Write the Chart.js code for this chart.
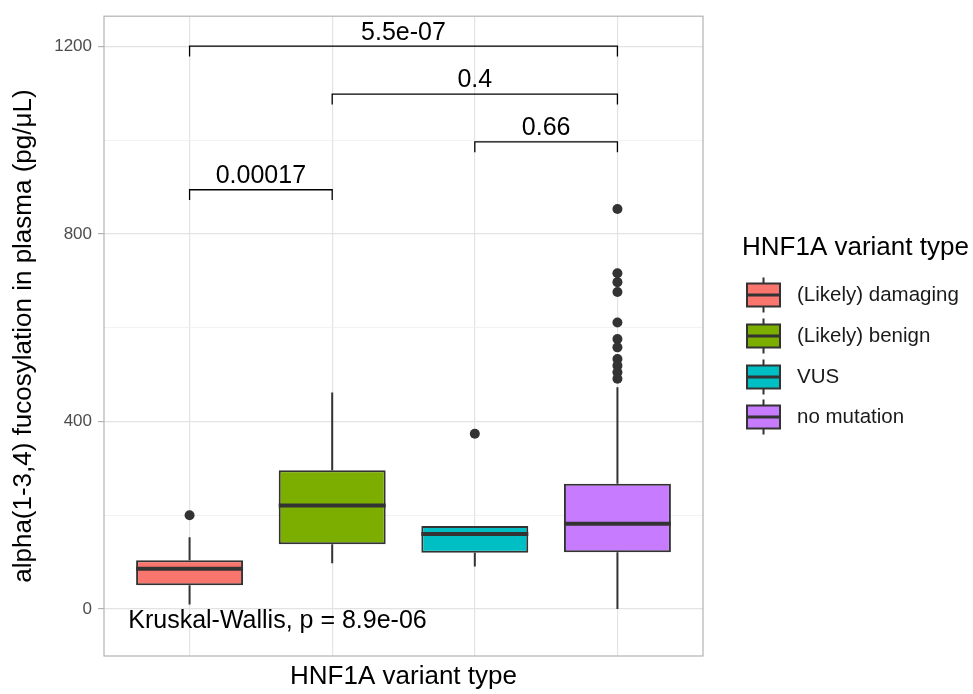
<!DOCTYPE html>
<html>
<head>
<meta charset="utf-8">
<title>HNF1A variant type boxplot</title>
<script src="https://cdn.jsdelivr.net/npm/chart.js@4.4.1/dist/chart.umd.min.js"></script>
<style>
  html, body { margin: 0; padding: 0; background: #ffffff; }
  #wrap { width: 973px; height: 694px; }
</style>
</head>
<body>
<div id="wrap"><canvas id="chart" width="973" height="694"></canvas></div>
<script>
// --- data ---
const groups = ['(Likely) damaging', '(Likely) benign', 'VUS', 'no mutation'];
const boxColors = ['#F8766D', '#7CAE00', '#00BFC4', '#C77CFF'];

const whiskerLow  = [10, 98, 91, 0];
const quartile1   = [51, 138, 120, 121];
const medians     = [86, 221, 160, 182];
const quartile3   = [104, 296, 177, 267];
const whiskerHigh = [153, 462, 177, 473];

const outliersDamaging   = [200];
const outliersBenign     = [];
const outliersVUS        = [374];
const outliersNoMutation = [853, 716, 697, 676, 611, 576, 558, 533, 519, 505, 491];
const outliers = [outliersDamaging, outliersBenign, outliersVUS, outliersNoMutation];

// pairwise comparisons: [from group, to group], bracket height, p label
const comparePairs   = [[1, 4], [2, 4], [3, 4], [1, 2]];
const compareHeights = [1200, 1098, 996, 894];
const compareLabels  = ['5.5e-07', '0.4', '0.66', '0.00017'];
const bracketTip = 22;

const kruskalLabel = 'Kruskal-Wallis, p = 8.9e-06';
const kruskalPos = { x: 0.57, y: -25 };

const yGridValues = [0, 200, 400, 600, 800, 1000, 1200];
const yTickLabels = [0, 400, 800, 1200];

const BOX_WIDTH = 0.75;
const INK = '#333333';
const FONT = "'Liberation Sans', Arial, sans-serif";

Chart.defaults.font.family = FONT;

// --- datasets (first one is drawn on top) ---
const datasets = [];

datasets.push({
    type: 'scatter',
    data: outliers.flatMap((vals, i) => vals.map(v => ({ x: i + 1, y: v }))),
    pointRadius: 5,
    pointBackgroundColor: INK,
    pointBorderWidth: 0
});

groups.forEach((g, i) => {
    datasets.push({
        type: 'line',
        data: [{ x: i + 1 - BOX_WIDTH / 2, y: medians[i] }, { x: i + 1 + BOX_WIDTH / 2, y: medians[i] }],
        borderColor: INK,
        borderWidth: 4,
        borderCapStyle: 'butt',
        pointRadius: 0
    });
    // whiskers, with a gap across the box
    datasets.push({
        type: 'line',
        data: [
            { x: i + 1, y: whiskerLow[i] }, { x: i + 1, y: quartile1[i] },
            { x: i + 1, y: null },
            { x: i + 1, y: quartile3[i] }, { x: i + 1, y: whiskerHigh[i] }
        ],
        borderColor: INK,
        borderWidth: 2,
        borderCapStyle: 'butt',
        pointRadius: 0,
        spanGaps: false
    });
});

comparePairs.forEach(([a, b], k) => {
    const h = compareHeights[k];
    datasets.push({
        type: 'line',
        data: [{ x: a, y: h - bracketTip }, { x: a, y: h }, { x: b, y: h }, { x: b, y: h - bracketTip }],
        borderColor: '#000000',
        borderWidth: 1.3,
        pointRadius: 0,
        tension: 0
    });
});

datasets.push({
    type: 'bar',
    data: groups.map((g, i) => ({ x: i + 1, y: [quartile1[i], quartile3[i]] })),
    backgroundColor: boxColors,
    borderColor: INK,
    borderWidth: 2,
    borderSkipped: false,
    barPercentage: BOX_WIDTH,
    categoryPercentage: 1,
    grouped: false
});

// --- extra drawing: p labels, panel border, legend ---
const extras = {
    id: 'extras',
    afterDatasetsDraw(chart) {
        const { ctx, scales: { x, y } } = chart;
        ctx.save();
        ctx.fillStyle = '#000000';
        ctx.font = '25px ' + FONT;
        ctx.textAlign = 'center';
        ctx.textBaseline = 'bottom';
        comparePairs.forEach(([a, b], k) => {
            ctx.fillText(compareLabels[k], x.getPixelForValue((a + b) / 2), y.getPixelForValue(compareHeights[k]) - 1);
        });
        ctx.textAlign = 'left';
        ctx.textBaseline = 'middle';
        ctx.fillText(kruskalLabel, x.getPixelForValue(kruskalPos.x), y.getPixelForValue(kruskalPos.y));
        ctx.restore();
    },
    afterDraw(chart) {
        const { ctx, chartArea: area } = chart;
        ctx.save();
        ctx.strokeStyle = '#b3b3b3';
        ctx.lineWidth = 1.2;
        ctx.strokeRect(area.left, area.top, area.right - area.left, area.bottom - area.top);

        // legend
        ctx.fillStyle = '#000000';
        ctx.font = '26px ' + FONT;
        ctx.textAlign = 'left';
        ctx.textBaseline = 'middle';
        ctx.fillText('HNF1A variant type', 742, 248);

        const rowY = [295, 336, 377, 417];
        const kx = 747, kw = 33, kh = 23;
        groups.forEach((g, i) => {
            const cy = rowY[i];
            ctx.strokeStyle = INK;
            ctx.lineWidth = 2;
            ctx.beginPath();
            ctx.moveTo(kx + kw / 2, cy - kh / 2 - 6);
            ctx.lineTo(kx + kw / 2, cy + kh / 2 + 6);
            ctx.stroke();
            ctx.fillStyle = boxColors[i];
            ctx.fillRect(kx, cy - kh / 2, kw, kh);
            ctx.strokeRect(kx, cy - kh / 2, kw, kh);
            ctx.lineWidth = 3;
            ctx.beginPath();
            ctx.moveTo(kx, cy);
            ctx.lineTo(kx + kw, cy);
            ctx.stroke();
            ctx.fillStyle = '#1a1a1a';
            ctx.font = '20.5px ' + FONT;
            ctx.fillText(g, 797, cy);
        });
        ctx.restore();
    }
};

new Chart(document.getElementById('chart'), {
    type: 'bar',
    data: { datasets: datasets },
    options: {
        responsive: false,
        animation: false,
        events: [],
        layout: { padding: { top: 15, right: 270, bottom: 0, left: 0 } },
        plugins: {
            legend: { display: false },
            tooltip: { enabled: false }
        },
        scales: {
            x: {
                type: 'linear',
                min: 0.4,
                max: 4.6,
                offset: false,
                afterBuildTicks: (scale) => { scale.ticks = groups.map((g, i) => ({ value: i + 1 })); },
                afterFit: (scale) => { scale.height = 38; },
                ticks: { display: false },
                grid: { color: '#e3e3e3', lineWidth: 1.2, drawTicks: false, offset: false },
                border: { display: false },
                title: {
                    display: true,
                    text: 'HNF1A variant type',
                    color: '#000000',
                    font: { size: 26 },
                    padding: { top: 0, bottom: 2 }
                }
            },
            y: {
                type: 'linear',
                min: -100,
                max: 1264,
                afterBuildTicks: (scale) => { scale.ticks = yGridValues.map(v => ({ value: v })); },
                afterFit: (scale) => { scale.width = 104; },
                ticks: {
                    color: '#4d4d4d',
                    font: { size: 17 },
                    padding: 6,
                    callback: (v) => yTickLabels.includes(v) ? String(v) : ''
                },
                grid: {
                    color: (c) => c.tick && yTickLabels.includes(c.tick.value) ? '#e3e3e3' : '#efefef',
                    lineWidth: (c) => c.tick && yTickLabels.includes(c.tick.value) ? 1.2 : 0.8,
                    tickColor: (c) => c.tick && yTickLabels.includes(c.tick.value) ? '#b3b3b3' : 'rgba(0,0,0,0)',
                    tickLength: 6,
                    tickWidth: 1.2
                },
                border: { display: false },
                title: {
                    display: true,
                    text: 'alpha(1-3,4) fucosylation in plasma (pg/μL)',
                    color: '#000000',
                    font: { size: 26 },
                    padding: { top: 8, bottom: 0 }
                }
            }
        }
    },
    plugins: [extras]
});
</script>
</body>
</html>
